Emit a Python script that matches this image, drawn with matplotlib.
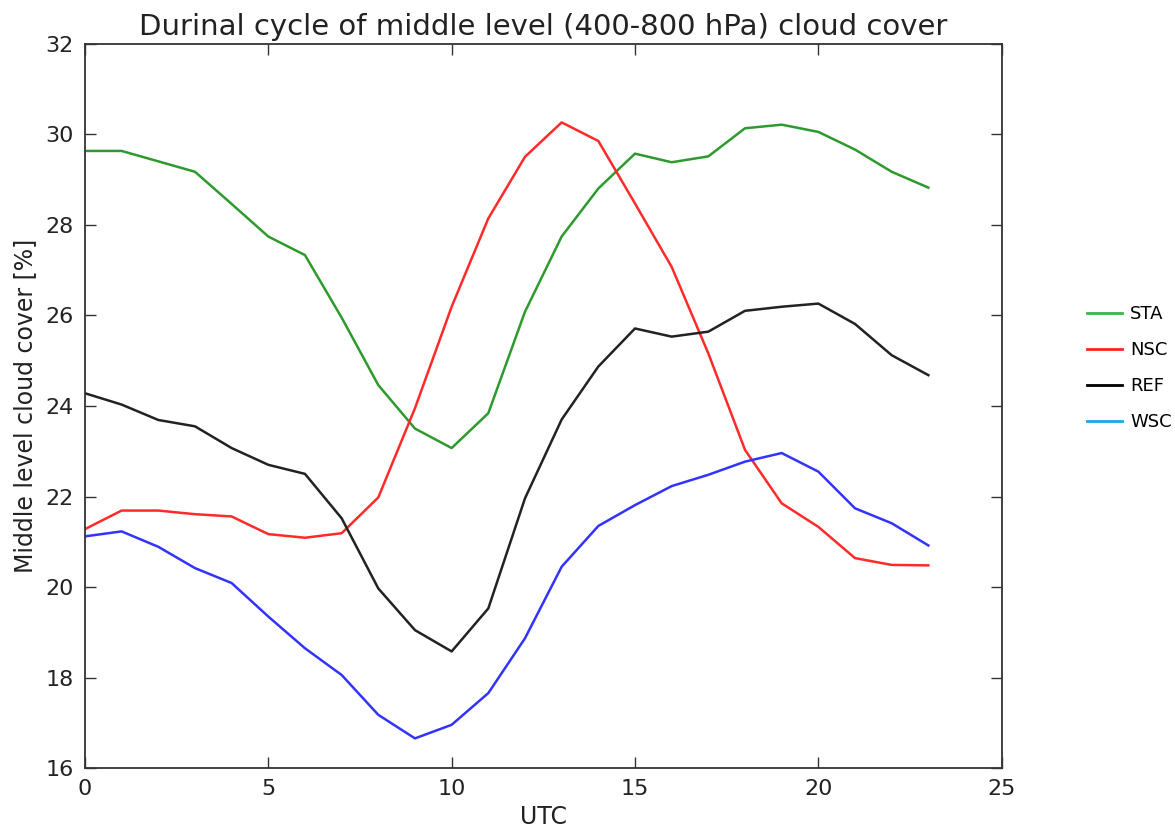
import matplotlib
matplotlib.use("Agg")
import matplotlib.pyplot as plt
from matplotlib.lines import Line2D

# hours (UTC) and middle level cloud cover [%] per experiment
hours = list(range(24))
sta = [29.63, 29.63, 29.40, 29.17, 28.46, 27.74, 27.33, 25.95, 24.46, 23.50,
       23.07, 23.84, 26.08, 27.74, 28.80, 29.57, 29.38, 29.51, 30.13, 30.21,
       30.05, 29.66, 29.17, 28.82]
nsc = [21.28, 21.69, 21.69, 21.61, 21.56, 21.17, 21.09, 21.19, 21.98, 23.95,
       26.19, 28.14, 29.50, 30.26, 29.85, 28.47, 27.07, 25.16, 23.03, 21.85,
       21.33, 20.64, 20.49, 20.48]
ref = [24.28, 24.03, 23.69, 23.55, 23.07, 22.70, 22.50, 21.52, 19.97, 19.05,
       18.58, 19.53, 21.96, 23.70, 24.87, 25.71, 25.53, 25.64, 26.10, 26.19,
       26.26, 25.81, 25.12, 24.68]
wsc = [21.12, 21.23, 20.89, 20.42, 20.09, 19.35, 18.65, 18.06, 17.18, 16.66,
       16.96, 17.66, 18.87, 20.45, 21.35, 21.81, 22.23, 22.48, 22.77, 22.96,
       22.55, 21.74, 21.41, 20.92]
names = ["STA", "NSC", "REF", "WSC"]
legend_colors = ["#3cb44b", "#ff2020", "black", "#1ea5e8"]

txt = "#222222"
fig = plt.figure(figsize=(11.75, 8.35), dpi=100)
ax = fig.add_axes([0.0723, 0.0799, 0.7802, 0.8679])

ax.plot(hours, sta, color="#2e9a2e", lw=1.8)
ax.plot(hours, nsc, color="#ff2a2a", lw=1.8)
ax.plot(hours, ref, color="#222222", lw=1.8)
ax.plot(hours, wsc, color="#3333ff", lw=1.8)

ax.set_xlim(0, 25)
ax.set_ylim(16, 32)
ax.set_xticks(range(0, 26, 5))
ax.set_yticks(range(16, 33, 2))
ax.tick_params(direction="in", top=True, right=True, length=8, width=1,
               labelsize=16, pad=8, labelcolor=txt, color="#333333")
for s in ax.spines.values():
    s.set_linewidth(1.3)
    s.set_color("#333333")

ax.set_title("Durinal cycle of middle level (400-800 hPa) cloud cover",
             fontsize=21, pad=6, color=txt)
ax.set_xlabel("UTC", fontsize=17, labelpad=4, color=txt)
ax.set_ylabel("Middle level cloud cover [%]", fontsize=17, labelpad=6, color=txt)

handles = [Line2D([], [], color=c, lw=2) for c in legend_colors]
fig.legend(handles, names, loc="center left", bbox_to_anchor=(0.925, 0.559),
           frameon=False, fontsize=13, handlelength=1.95, handletextpad=0.45,
           labelspacing=1.0, borderaxespad=0, borderpad=0)

fig.savefig("out.png", dpi=100)
